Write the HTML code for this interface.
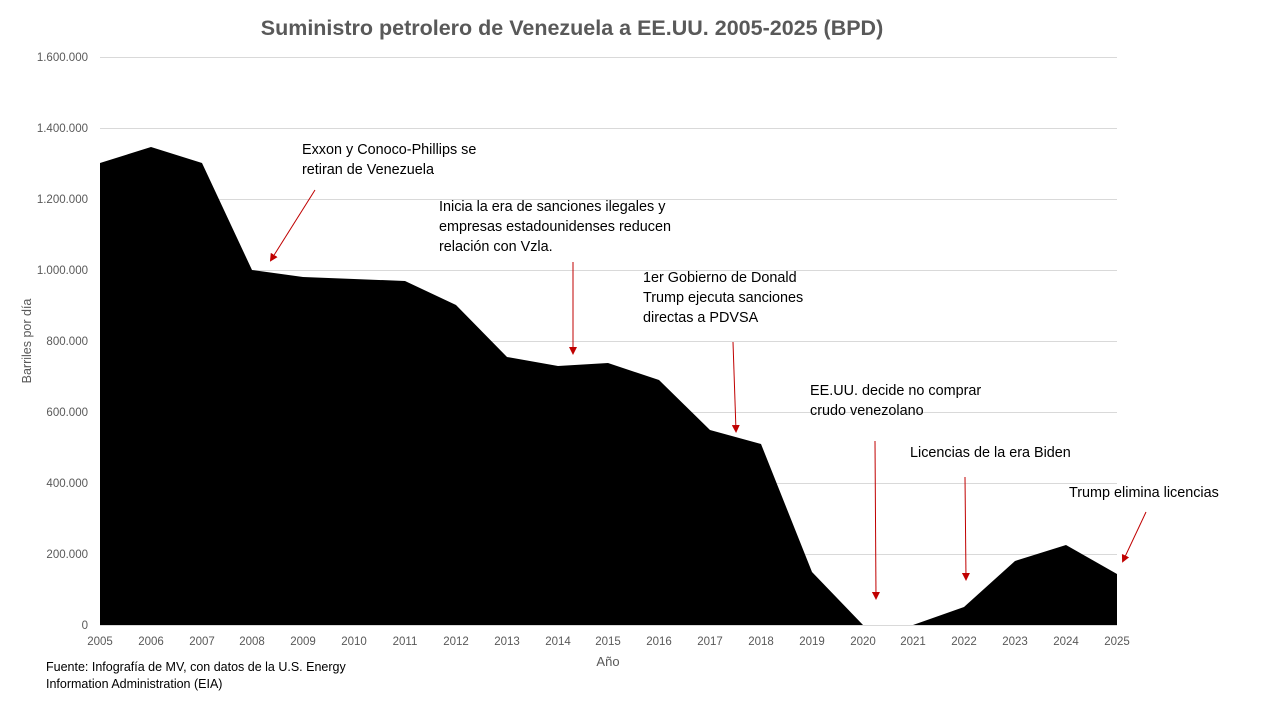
<!DOCTYPE html>
<html><head><meta charset="utf-8"><style>
html,body{margin:0;padding:0;background:#fff}
svg{display:block;font-family:"Liberation Sans",sans-serif}
</style></head><body>
<svg width="1280" height="702" viewBox="0 0 1280 702" xmlns="http://www.w3.org/2000/svg">
<rect width="1280" height="702" fill="#fff"/>
<text x="572" y="35" text-anchor="middle" font-size="21.5" font-weight="bold" fill="#595959">Suministro petrolero de Venezuela a EE.UU. 2005-2025 (BPD)</text>
<g stroke="#d9d9d9" stroke-width="1">
<line x1="100" y1="57.5" x2="1117" y2="57.5"/>
<line x1="100" y1="128.5" x2="1117" y2="128.5"/>
<line x1="100" y1="199.5" x2="1117" y2="199.5"/>
<line x1="100" y1="270.5" x2="1117" y2="270.5"/>
<line x1="100" y1="341.5" x2="1117" y2="341.5"/>
<line x1="100" y1="412.5" x2="1117" y2="412.5"/>
<line x1="100" y1="483.5" x2="1117" y2="483.5"/>
<line x1="100" y1="554.5" x2="1117" y2="554.5"/>
</g>
<g font-size="11.5" fill="#595959" text-anchor="end">
<text x="88" y="61">1.600.000</text><text x="88" y="132">1.400.000</text><text x="88" y="203">1.200.000</text><text x="88" y="274">1.000.000</text><text x="88" y="345">800.000</text><text x="88" y="416">600.000</text><text x="88" y="487">400.000</text><text x="88" y="558">200.000</text><text x="88" y="629">0</text>
</g>
<polygon fill="#000" points="100,625 100,163 151,147 202,163 252,270 303,277 354,279 405,281 456,305 507,357 558,366 608,363 659,380 710,430 761,444 812,572 863,625 913,625 964,607 1015,561 1066,545 1117,574 1117,625"/>
<line x1="100" y1="625.5" x2="1117" y2="625.5" stroke="#d9d9d9"/>
<g font-size="11.5" fill="#595959" text-anchor="middle">
<text x="100" y="645">2005</text><text x="151" y="645">2006</text><text x="202" y="645">2007</text><text x="252" y="645">2008</text><text x="303" y="645">2009</text><text x="354" y="645">2010</text><text x="405" y="645">2011</text><text x="456" y="645">2012</text><text x="507" y="645">2013</text><text x="558" y="645">2014</text><text x="608" y="645">2015</text><text x="659" y="645">2016</text><text x="710" y="645">2017</text><text x="761" y="645">2018</text><text x="812" y="645">2019</text><text x="863" y="645">2020</text><text x="913" y="645">2021</text><text x="964" y="645">2022</text><text x="1015" y="645">2023</text><text x="1066" y="645">2024</text><text x="1117" y="645">2025</text>
<text x="608" y="666" font-size="13">Año</text>
</g>
<text transform="translate(31,341) rotate(-90)" font-size="12.5" fill="#595959" text-anchor="middle">Barriles por día</text>
<g font-size="14.4" fill="#000">
<text x="302" y="154">Exxon y Conoco-Phillips se</text><text x="302" y="174">retiran de Venezuela</text>
<text x="439" y="211">Inicia la era de sanciones ilegales y</text><text x="439" y="231">empresas estadounidenses reducen</text><text x="439" y="251">relación con Vzla.</text>
<text x="643" y="282">1er Gobierno de Donald</text><text x="643" y="302">Trump ejecuta sanciones</text><text x="643" y="322">directas a PDVSA</text>
<text x="810" y="395">EE.UU. decide no comprar</text><text x="810" y="415">crudo venezolano</text>
<text x="910" y="457">Licencias de la era Biden</text>
<text x="1069" y="497">Trump elimina licencias</text>
</g>
<defs><marker id="a" markerWidth="8" markerHeight="8" refX="6" refY="4" orient="auto" markerUnits="userSpaceOnUse"><path d="M0,0 L8,4 L0,8 z" fill="#c00000"/></marker></defs>
<g stroke="#c00000" stroke-width="1" marker-end="url(#a)">
<line x1="315" y1="190" x2="271" y2="260"/>
<line x1="573" y1="262" x2="573" y2="353"/>
<line x1="733" y1="342" x2="736" y2="431"/>
<line x1="875" y1="441" x2="876" y2="598"/>
<line x1="965" y1="477" x2="966" y2="579"/>
<line x1="1146" y1="512" x2="1123" y2="561"/>
</g>
<text x="46" y="671" font-size="12.5" fill="#000">Fuente: Infografía de MV, con datos de la U.S. Energy</text>
<text x="46" y="688" font-size="12.5" fill="#000">Information Administration (EIA)</text>
</svg>
</body></html>
